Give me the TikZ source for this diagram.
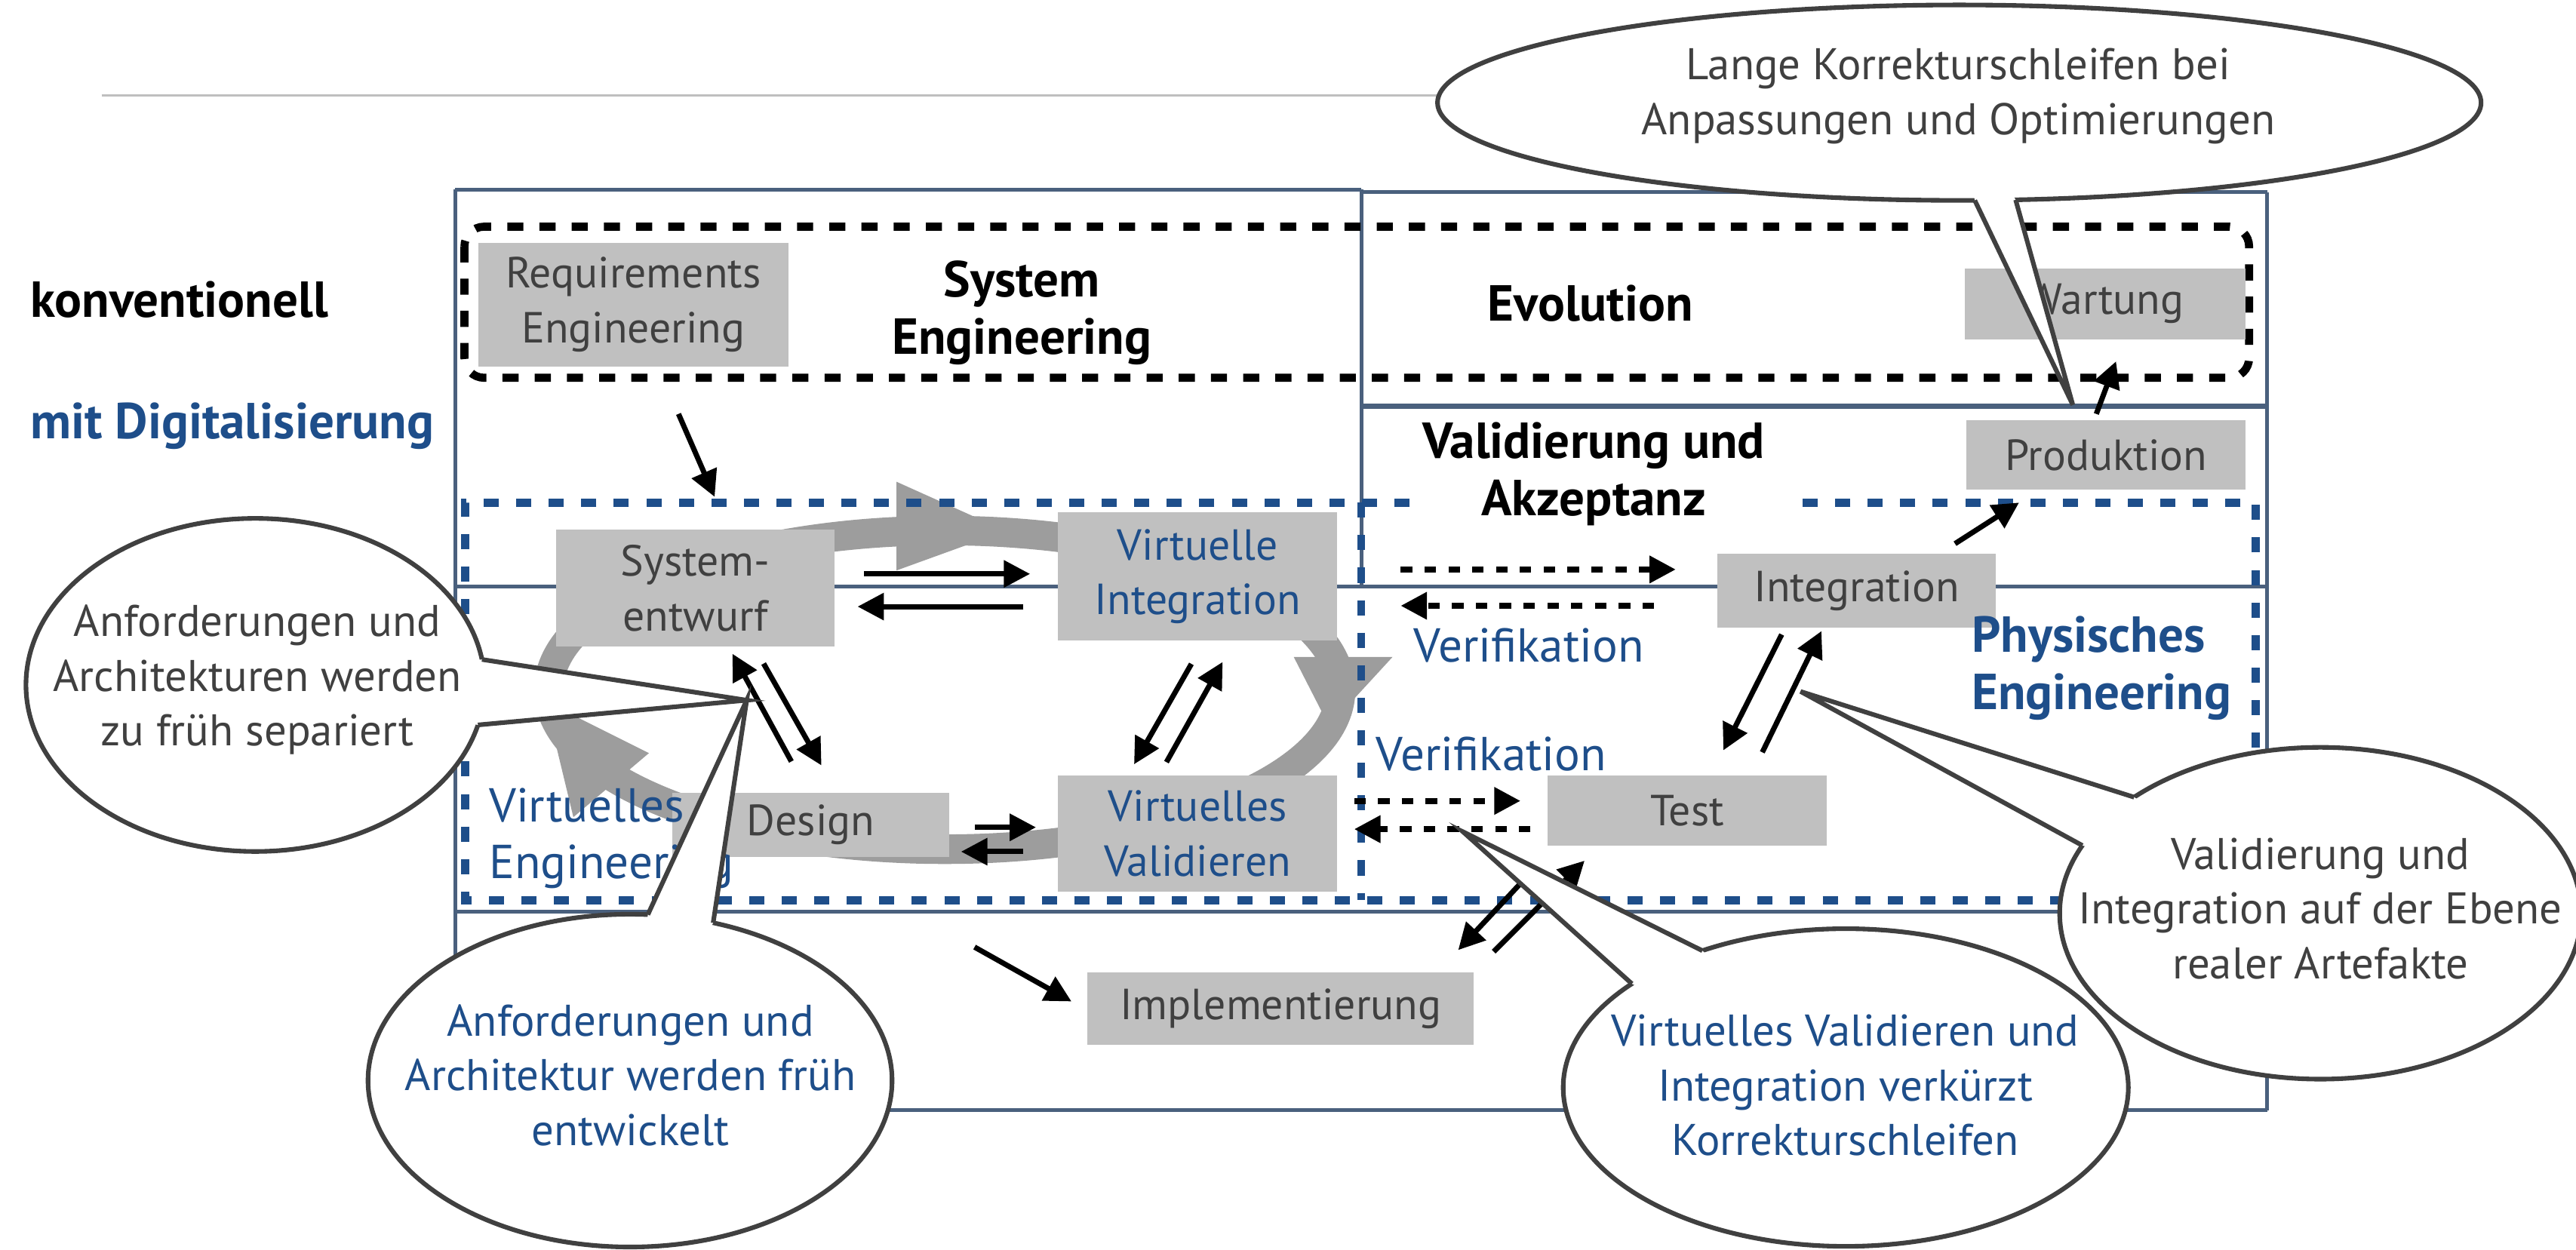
\documentclass[tikz,border=0pt]{standalone}
\usepackage{fontspec}
\setmainfont{PT Sans}
\usetikzlibrary{arrows.meta,calc}
\definecolor{framec}{RGB}{74,96,125}
\definecolor{dblue}{RGB}{30,78,138}
\definecolor{tgray}{RGB}{64,64,64}
\definecolor{bgray}{RGB}{192,192,192}
\definecolor{rgray}{RGB}{157,157,157}
\definecolor{lgray}{RGB}{191,191,191}
\definecolor{clinec}{RGB}{64,64,64}
\newcommand\fntbox{\fontsize{26.5}{33.4}\selectfont}
\newcommand\fntcall{\fontsize{27}{33.3}\selectfont}
\newcommand\fntlab{\fontsize{29}{34}\selectfont}
\newcommand\fntbold{\fontsize{30.8}{35}\selectfont\bfseries}
\tikzset{
  boxnode/.style={fill=bgray, inner sep=0pt, text=tgray, align=center, font=\fntbox},
  bluebox/.style={boxnode, text=dblue},
  framel/.style={draw=framec, line width=2.3pt},
  bdash/.style={draw=dblue, line width=4.9pt, dash pattern=on 9.2pt off 10.6pt},
  kdash/.style={draw=black, line width=4.9pt, dash pattern=on 9.8pt off 9.8pt},
  arr/.style={draw=black, line width=3.2pt, -{Triangle[length=16pt,width=16pt]}},
  darr/.style={arr, line width=3.6pt, dash pattern=on 7pt off 7.5pt},
  boldlab/.style={inner sep=0pt, font=\fntbold, text=black},
  bluebold/.style={boldlab, text=dblue},
  bluelab/.style={inner sep=0pt, font=\fntlab, text=dblue},
  callout/.style={fill=white, draw=clinec, line width=2.8pt},
  cline/.style={draw=clinec, line width=2.8pt, line join=miter},
  ctext/.style={inner sep=0pt, align=center, font=\fntcall, text=tgray},
  ctextblue/.style={ctext, text=dblue}
}
\begin{document}
\begin{tikzpicture}[x=1pt,y=-1pt]
\useasboundingbox (0,0) rectangle (1568,761);

% header rule
\coordinate (hl1) at (62,58);
\coordinate (hl2) at (900,58);
\draw[lgray, line width=1.4pt] (hl1) -- (hl2);

% grey cycle
\draw[rgray, line width=18pt] (575,420) ellipse [x radius=241pt, y radius=97pt];
\fill[rgray] (545.7,293.3) -- (612.2,323.2) -- (545.7,347.3) -- cycle;
\fill[rgray] (787.5,400) -- (847.6,400) -- (809,442) -- cycle;
\fill[rgray] (332,427) -- (395,458.5) -- (349,497.5) -- cycle;

% frame
\draw[framel] (277,115.5) -- (828.6,115.5);
\draw[framel] (828.6,117) -- (1380,117);
\draw[framel] (277,115.5) -- (277,676);
\draw[framel] (828.6,115.5) -- (828.6,357);
\draw[framel, line width=3pt] (828.6,247.4) -- (1380,247.4);
\draw[framel] (1380,117) -- (1380,676);
\draw[framel] (277,357) -- (1380,357);
\draw[framel] (277,555) -- (1380,555);
\draw[framel] (277,676) -- (1380,676);

% dashed regions
\draw[kdash, rounded corners=12pt] (282.7,138) rectangle (1369,230);
\draw[bdash] (858,306) -- (283,306) -- (283,548) -- (1373,548) -- (1373,306) -- (1087,306);
\draw[bdash] (828.6,306) -- (828.6,548);

% boxes
\node[boxnode, minimum width=189pt, minimum height=75pt] (req) at (385.5,185.5) {Requirements\\Engineering};
\node[boxnode, minimum width=171pt, minimum height=43pt] (wart) at (1281.5,185) {Wartung};
\node[boxnode, minimum width=170pt, minimum height=42pt] (prod) at (1282,277) {Produktion};
\node[boxnode, minimum width=169.5pt, minimum height=71pt] (se) at (423.2,358) {System-\\entwurf};
\node[bluebox, minimum width=170pt, minimum height=78pt] (vi) at (729,351) {Virtuelle\\Integration};
\node[boxnode, minimum width=169pt, minimum height=39pt] (des) at (493.5,502.2) {Design};
\node[bluebox, minimum width=170pt, minimum height=71pt] (vv) at (729,507.5) {Virtuelles\\Validieren};
\node[boxnode, minimum width=169.5pt, minimum height=45pt] (integ) at (1130.2,359.5) {Integration};
\node[boxnode, minimum width=170pt, minimum height=43pt] (test) at (1027,493.5) {Test};
\node[boxnode, minimum width=235pt, minimum height=44pt] (impl) at (779.5,614) {Implementierung};

% labels
\node[boldlab, anchor=base west] (konv) at (18.4,193) {konventionell};
\node[bluebold, anchor=base west] (mitdig) at (18.4,267) {mit Digitalisierung};
\node[boldlab, anchor=base] (syse1) at (622,180.5) {System};
\node[boldlab, anchor=base] (syse2) at (622,215.4) {Engineering};
\node[boldlab, anchor=base] (evo) at (968,195.4) {Evolution};
\node[boldlab, anchor=base] (val1) at (970,278.8) {Validierung und};
\node[boldlab, anchor=base] (val2) at (970,314) {Akzeptanz};
\node[bluebold, anchor=base west] (phys1) at (1200,397.2) {Physisches};
\node[bluebold, anchor=base west] (phys2) at (1200,432) {Engineering};
\node[bluelab, anchor=base west] (verif1) at (860.4,403.1) {Verifikation};
\node[bluelab, anchor=base west] (verif2) at (837.5,469.1) {Verifikation};
\node[bluelab, anchor=base west] (ve1) at (297.5,500.6) {Virtuelles};
\node[bluelab, anchor=base west] (ve2) at (297.5,535) {Engineering};

% arrow end points
\coordinate (a1s) at (413,252);     \coordinate (a1e) at (435,302.5);
\coordinate (a2s) at (526,349.4);   \coordinate (a2e) at (627,349.4);
\coordinate (a3s) at (623,369.3);   \coordinate (a3e) at (522,369.3);
\coordinate (a4s) at (481.7,463.6); \coordinate (a4e) at (445.8,398);
\coordinate (a5s) at (464.8,404);   \coordinate (a5e) at (500,466);
\coordinate (a6s) at (725.2,404.2); \coordinate (a6e) at (690.3,465.3);
\coordinate (a7s) at (710,464);     \coordinate (a7e) at (744.2,403);
\coordinate (a8s) at (593.4,503.7); \coordinate (a8e) at (630.6,503.7);
\coordinate (a9s) at (622.7,518.5); \coordinate (a9e) at (585,518.5);
\coordinate (d1s) at (852.6,346.7); \coordinate (d1e) at (1020,346.7);
\coordinate (d2s) at (1006.8,368.8);\coordinate (d2e) at (852.6,368.8);
\coordinate (d3s) at (824.3,487.6); \coordinate (d3e) at (925.5,487.6);
\coordinate (d4s) at (931.6,504.8); \coordinate (d4e) at (824.3,504.8);
\coordinate (b1s) at (1084.5,386.3);\coordinate (b1e) at (1049,456.8);
\coordinate (b2s) at (1072.7,458);  \coordinate (b2e) at (1108.7,384.2);
\coordinate (b3s) at (925,538.4);   \coordinate (b3e) at (887.6,578.4);
\coordinate (b4s) at (909.2,579.4); \coordinate (b4e) at (964.5,524);
\coordinate (b5s) at (1190,331);    \coordinate (b5e) at (1229,306);
\coordinate (b6s) at (1276,252);    \coordinate (b6e) at (1288,220);
\coordinate (b7s) at (593.2,576.6); \coordinate (b7e) at (652.2,609.7);

\draw[arr] (a1s) -- (a1e);
\draw[arr] (a2s) -- (a2e);
\draw[arr] (a3s) -- (a3e);
\draw[arr] (a4s) -- (a4e);
\draw[arr] (a5s) -- (a5e);
\draw[arr] (a6s) -- (a6e);
\draw[arr] (a7s) -- (a7e);
\draw[arr] (a8s) -- (a8e);
\draw[arr] (a9s) -- (a9e);
\draw[darr] (d1s) -- (d1e);
\draw[darr] (d2s) -- (d2e);
\draw[darr] (d3s) -- (d3e);
\draw[darr] (d4s) -- (d4e);
\draw[arr] (b1s) -- (b1e);
\draw[arr] (b2s) -- (b2e);
\draw[arr] (b3s) -- (b3e);
\draw[arr] (b4s) -- (b4e);
\draw[arr] (b5s) -- (b5e);
\draw[arr] (b6s) -- (b6e);
\draw[arr] (b7s) -- (b7e);

% callout 1: left
\coordinate (c1) at (155.4,417);
\path[callout] (c1) ellipse [x radius=139.6pt, y radius=101.4pt];
\coordinate (c1a) at ({155.4+139.6*cos(-8.8)},{417+101.4*sin(-8.8)});
\coordinate (c1b) at ({155.4+139.6*cos(13.9)},{417+101.4*sin(13.9)});
\coordinate (c1t) at (454.5,426.3);
\fill[white] ($(c1a)!7pt!(c1)$) -- (c1a) -- (c1t) -- (c1b) -- ($(c1b)!7pt!(c1)$) -- cycle;
\draw[cline] (c1a) -- (c1t) -- (c1b);
\node[ctext] (c1txt) at (156.6,414) {Anforderungen und\\Architekturen werden\\zu früh separiert};

% callout 2: bottom left
\coordinate (c2) at (383.5,657.9);
\path[callout] (c2) ellipse [x radius=159.5pt, y radius=101.3pt];
\coordinate (c2a) at ({383.5+159.5*cos(-86.1)},{657.9+101.3*sin(-86.1)});
\coordinate (c2b) at ({383.5+159.5*cos(-71.5)},{657.9+101.3*sin(-71.5)});
\fill[white] ($(c2a)!7pt!(c2)$) -- (c2a) -- (c1t) -- (c2b) -- ($(c2b)!7pt!(c2)$) -- cycle;
\draw[cline] (c2a) -- (c1t) -- (c2b);
\node[ctextblue] (c2txt) at (383.8,654.6) {Anforderungen und\\Architektur werden früh\\entwickelt};

% callout 3: right
\coordinate (c3) at (1412.4,556);
\path[callout] (c3) ellipse [x radius=158.7pt, y radius=101pt];
\coordinate (c3a) at ({1412.4+158.7*cos(-135.6)},{556+101*sin(-135.6)});
\coordinate (c3b) at ({1412.4+158.7*cos(-155.9)},{556+101*sin(-155.9)});
\coordinate (c3t) at (1096,421);
\fill[white] ($(c3a)!7pt!(c3)$) -- (c3a) -- (c3t) -- (c3b) -- ($(c3b)!7pt!(c3)$) -- cycle;
\draw[cline] (c3a) -- (c3t) -- (c3b);
\node[ctext] (c3txt) at (1412.4,553) {Validierung und\\Integration auf der Ebene\\realer Artefakte};

% callout 4: bottom right
\coordinate (c4) at (1123.5,662.1);
\path[callout] (c4) ellipse [x radius=172pt, y radius=96.7pt];
\coordinate (c4a) at ({1123.5+172*cos(-139.2)},{662.1+96.7*sin(-139.2)});
\coordinate (c4b) at ({1123.5+172*cos(-120.5)},{662.1+96.7*sin(-120.5)});
\coordinate (c4t) at (890.5,506.4);
\fill[white] ($(c4a)!7pt!(c4)$) -- (c4a) -- (c4t) -- (c4b) -- ($(c4b)!7pt!(c4)$) -- cycle;
\draw[cline] (c4a) -- (c4t) -- (c4b);
\node[ctextblue] (c4txt) at (1123.2,660.8) {Virtuelles Validieren und\\Integration verkürzt\\Korrekturschleifen};

% callout 5: top
\coordinate (c5) at (1192.6,62.5);
\path[callout] (c5) ellipse [x radius=317.6pt, y radius=59.5pt];
\coordinate (c5a) at ({1192.6+317.6*cos(88.3)},{62.5+59.5*sin(88.3)});
\coordinate (c5b) at ({1192.6+317.6*cos(83.8)},{62.5+59.5*sin(83.8)});
\coordinate (c5t) at (1261.7,246.5);
\fill[white] ($(c5a)!7pt!(c5)$) -- (c5a) -- (c5t) -- (c5b) -- ($(c5b)!7pt!(c5)$) -- cycle;
\draw[cline] (c5a) -- (c5t) -- (c5b);
\node[ctext] (c5txt) at (1192,58.5) {Lange Korrekturschleifen bei\\Anpassungen und Optimierungen};

\end{tikzpicture}
\end{document}
